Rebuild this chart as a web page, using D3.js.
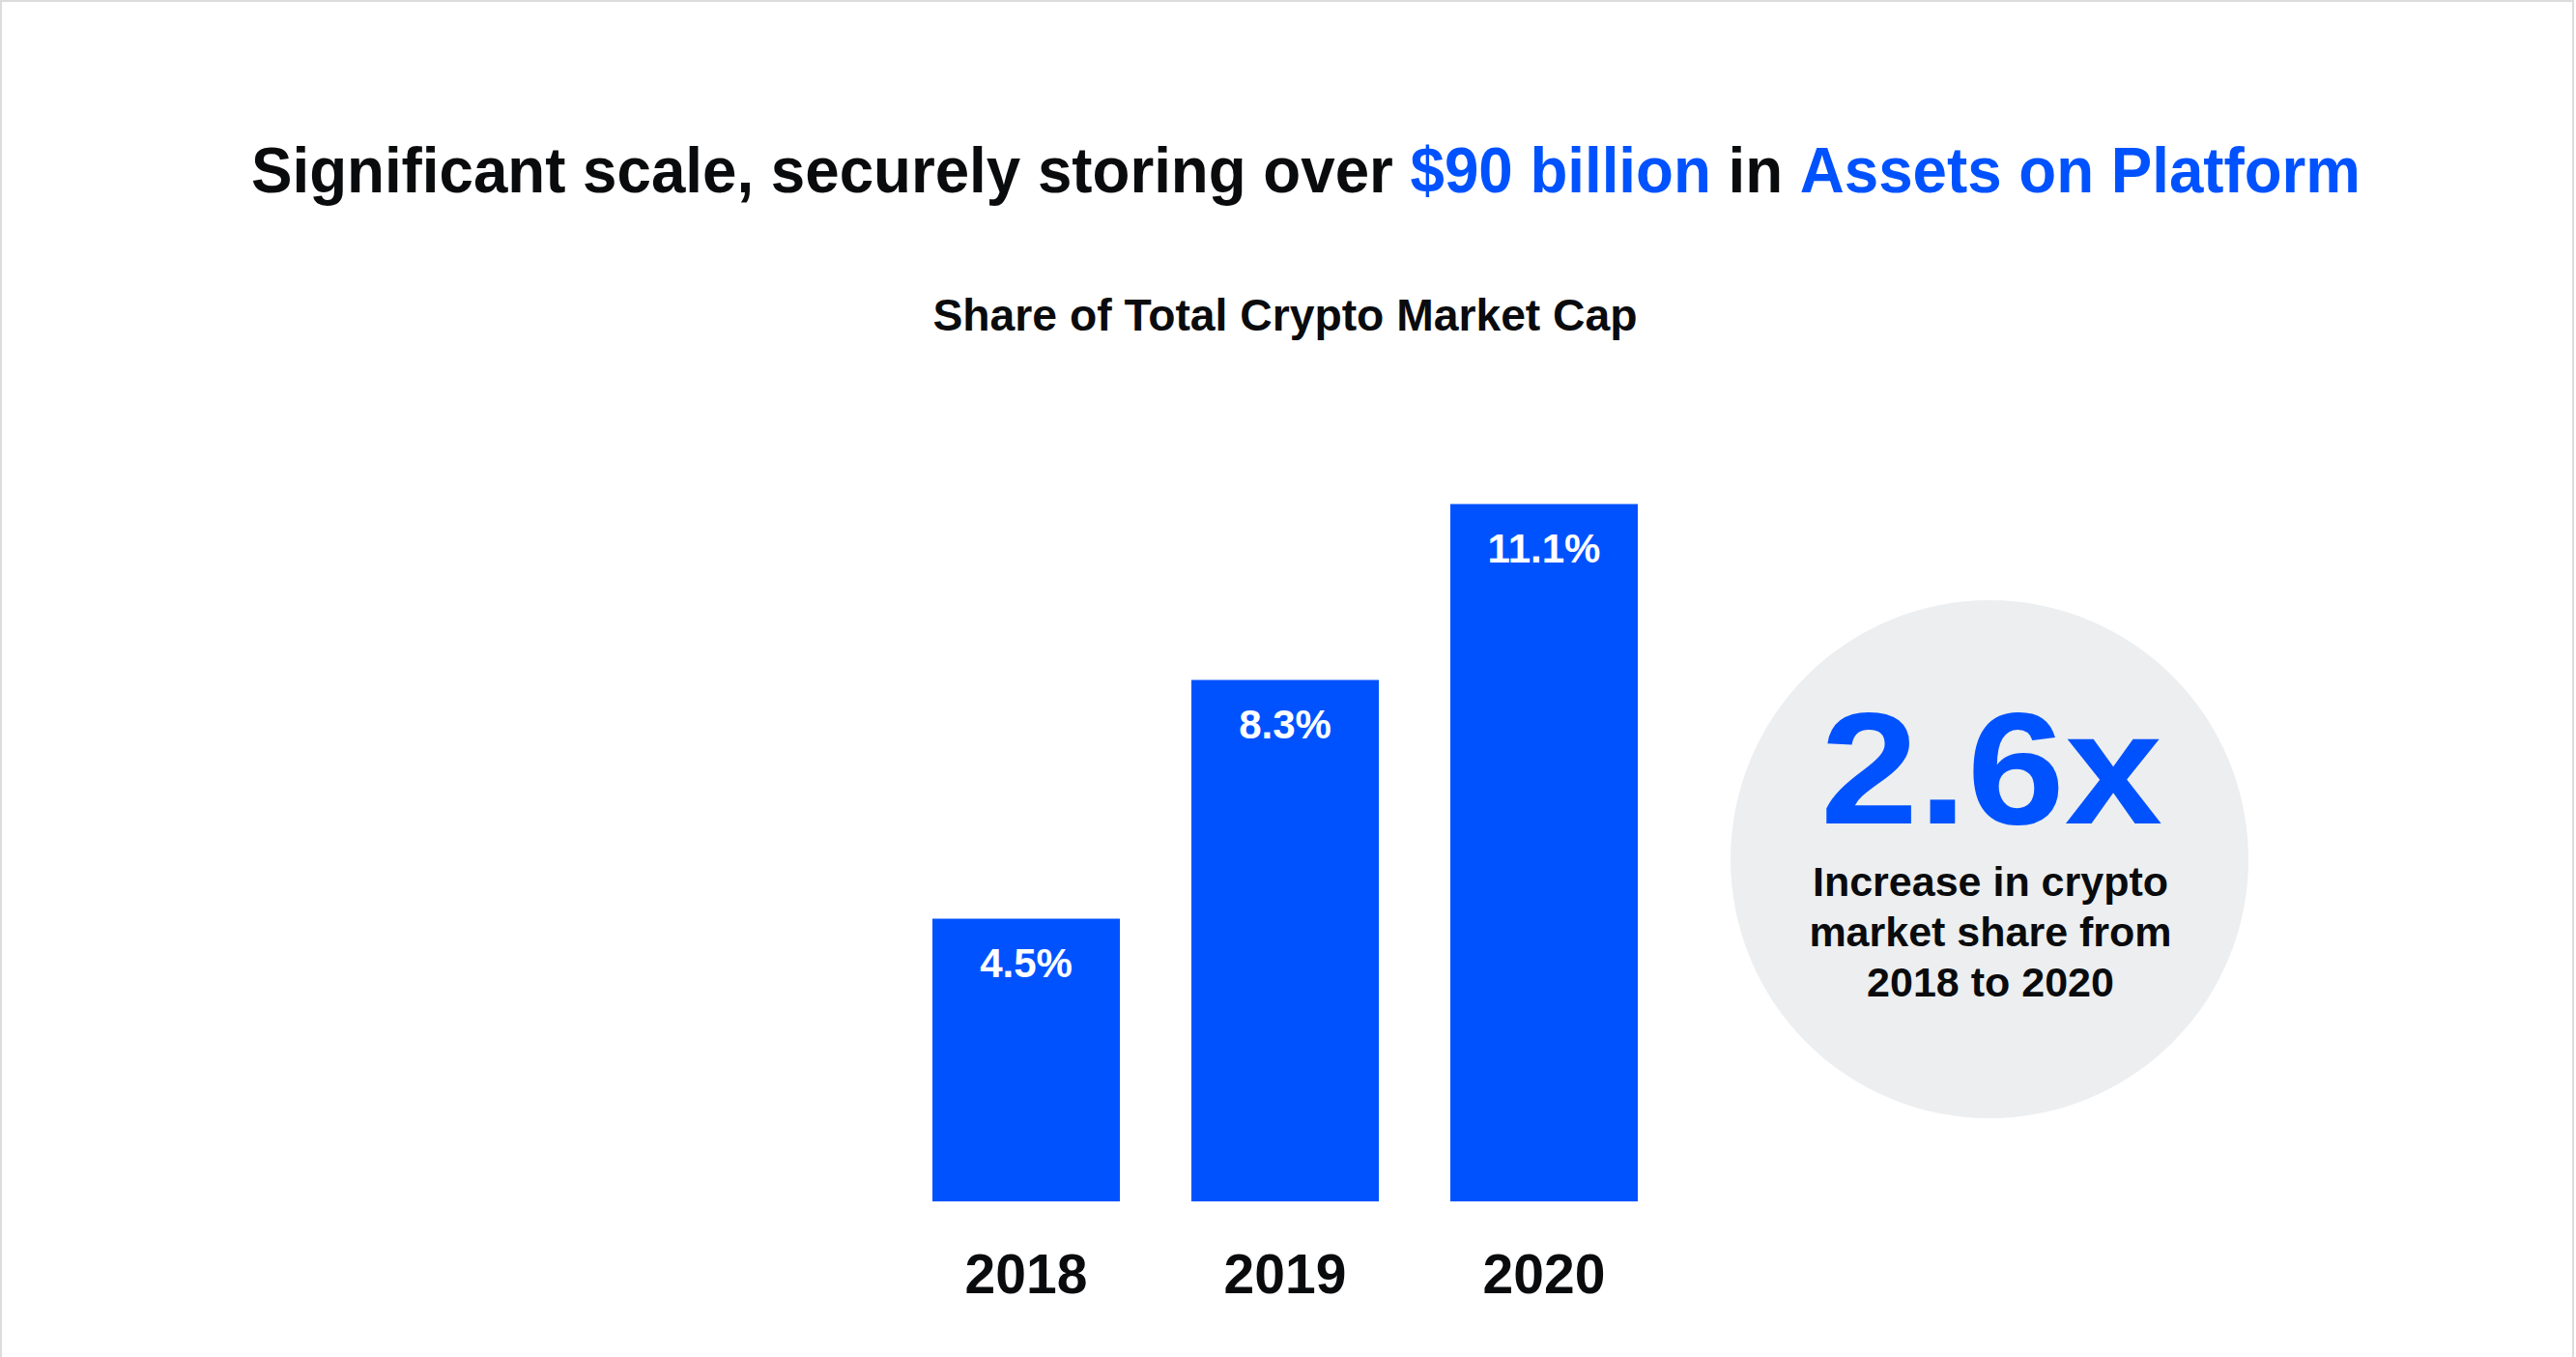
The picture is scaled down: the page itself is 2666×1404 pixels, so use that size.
<!DOCTYPE html>
<html>
<head>
<meta charset="utf-8">
<script src="https://cdn.jsdelivr.net/npm/d3@7"></script>
<style>
  html, body { margin: 0; padding: 0; background: #ffffff; }
  svg { display: block; }
  text { font-family: "Liberation Sans", Arial, sans-serif; font-weight: 700; }
</style>
</head>
<body>
<script>
// ---- data ----
const years = ["2018", "2019", "2020"];
const shares = [4.5, 8.3, 11.1];
const shareLabels = ["4.5%", "8.3%", "11.1%"];
const titleParts = [
  { text: "Significant scale, securely storing over", blue: false },
  { text: "$90 billion", blue: true },
  { text: "in", blue: false },
  { text: "Assets on Platform", blue: true }
];
const subtitle = "Share of Total Crypto Market Cap";
const calloutValue = "2.6x";
const calloutLines = ["Increase in crypto", "market share from", "2018 to 2020"];

// ---- layout ----
const W = 2666, H = 1404;
const BLUE = "#0052ff", INK = "#0a0b0d", GREY = "#eceef0";

const svg = d3.select("body").append("svg").attr("width", W).attr("height", H);

svg.append("rect").attr("x", 1).attr("y", 1).attr("width", W - 4).attr("height", H + 10)
  .attr("fill", "#fff").attr("stroke", "#dcdcdc").attr("stroke-width", 2);

// title: separate pieces laid out side by side, squeezed to the reference width
const titleSize = 66, titleLeft = 260, titleWidth = 2183, titleBase = 199;
const probe = svg.append("text").attr("font-size", titleSize).attr("x", -9999).attr("y", -9999);
const natural = titleParts.map(p => { probe.text(p.text); return probe.node().getComputedTextLength(); });
probe.text("a a"); const wAA = probe.node().getComputedTextLength();
probe.text("aa"); const spaceW = wAA - probe.node().getComputedTextLength();
probe.remove();
const totalNat = d3.sum(natural) + spaceW * (titleParts.length - 1);
const k = titleWidth / totalNat;
let cursor = titleLeft;
titleParts.forEach((p, i) => {
  const w = natural[i] * k;
  svg.append("text")
    .attr("x", cursor).attr("y", titleBase)
    .attr("font-size", titleSize)
    .attr("fill", p.blue ? BLUE : INK)
    .attr("textLength", w).attr("lengthAdjust", "spacingAndGlyphs")
    .text(p.text);
  cursor += w + spaceW * k;
});

// subtitle
svg.append("text")
  .attr("x", 1330).attr("y", 342)
  .attr("text-anchor", "middle")
  .attr("font-size", 46).attr("fill", INK)
  .attr("textLength", 729).attr("lengthAdjust", "spacingAndGlyphs")
  .text(subtitle);

// scales
const x = d3.scaleBand().domain(years).range([965, 1695]).paddingInner(0.276).paddingOuter(0);
const y = d3.scaleLinear().domain([0, 12]).range([1243, 1243 - 65 * 12]);

const data = years.map((yr, i) => ({ year: yr, value: shares[i], label: shareLabels[i] }));

svg.selectAll("rect.bar").data(data).join("rect")
  .attr("class", "bar")
  .attr("x", d => x(d.year))
  .attr("y", d => y(d.value))
  .attr("width", x.bandwidth())
  .attr("height", d => y(0) - y(d.value))
  .attr("fill", BLUE);

svg.selectAll("text.val").data(data).join("text")
  .attr("class", "val")
  .attr("x", d => x(d.year) + x.bandwidth() / 2)
  .attr("y", d => y(d.value) + 60)
  .attr("text-anchor", "middle")
  .attr("font-size", 42).attr("fill", "#ffffff")
  .text(d => d.label);

// x axis (labels only)
const xAxis = d3.axisBottom(x).tickSize(0).tickPadding(0);
const gx = svg.append("g").attr("transform", "translate(0,1243)").call(xAxis);
gx.select(".domain").remove();
gx.selectAll(".tick text")
  .attr("y", 95).attr("dy", null)
  .attr("font-size", 57).attr("fill", INK)
  .style("font-family", "'Liberation Sans', Arial, sans-serif").style("font-weight", 700);

// callout circle
const cx = 2059, cy = 889;
svg.append("circle").attr("cx", cx).attr("cy", cy).attr("r", 268).attr("fill", GREY);
svg.append("text")
  .attr("x", 2061).attr("y", 852)
  .attr("text-anchor", "middle")
  .attr("font-size", 166).attr("fill", BLUE)
  .attr("textLength", 354).attr("lengthAdjust", "spacingAndGlyphs")
  .text(calloutValue);
svg.selectAll("text.cl").data(calloutLines).join("text")
  .attr("class", "cl")
  .attr("x", 2060)
  .attr("y", (d, i) => 927 + i * 52)
  .attr("text-anchor", "middle")
  .attr("font-size", 43).attr("fill", INK)
  .text(d => d);
</script>
</body>
</html>
